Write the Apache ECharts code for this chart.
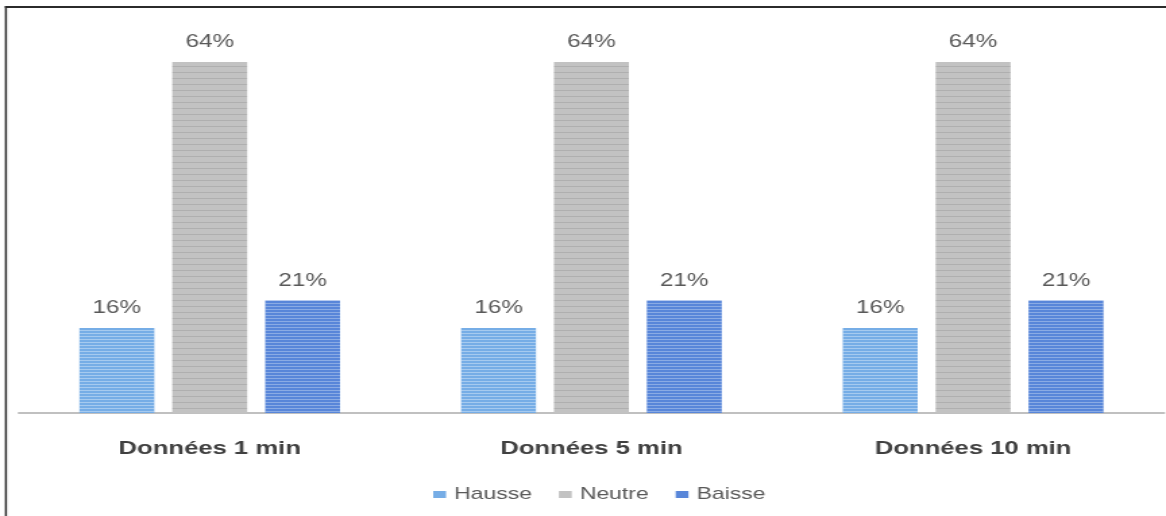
<!DOCTYPE html>
<html>
<head>
<meta charset="utf-8">
<script src="https://cdn.jsdelivr.net/npm/echarts@6/dist/echarts.min.js"></script>
<style>
html,body{margin:0;padding:0;background:#fff;overflow:hidden;}
#wrap{width:1166px;height:516px;overflow:hidden;position:relative;}
#chart{width:864px;height:516px;transform:scaleX(1.3495);transform-origin:0 0;position:absolute;left:0;top:0;}
</style>
</head>
<body>
<div id="wrap"><div id="chart"></div></div>
<script>
var categories = ['Données 1 min', 'Données 5 min', 'Données 10 min'];
var hausse = [15.5, 15.5, 15.5];
var neutre = [64, 64, 64];
var baisse = [20.5, 20.5, 20.5];
var seriesNames = ['Hausse', 'Neutre', 'Baisse'];

var chart = echarts.init(document.getElementById('chart'), null, {renderer: 'canvas'});
var fontFam = '"Liberation Sans", Arial, sans-serif';
function mkLabel() {
  return {
    show: true, position: 'top', distance: 11,
    color: '#595959', fontSize: 18, fontFamily: fontFam,
    formatter: function (p) { return Math.round(p.value) + '%'; }
  };
}
function mkSeries(name, data, color, decalColor, period) {
  return {
    name: name, type: 'bar', data: data,
    barGap: '24%', barCategoryGap: '31.7%',
    itemStyle: {
      color: color,
      decal: {
        symbol: 'rect',
        color: decalColor,
        dashArrayX: [[1, 0]],
        dashArrayY: [1, period - 1],
        rotation: 0,
        symbolSize: 1
      }
    },
    label: mkLabel(),
    emphasis: {disabled: true}
  };
}
chart.setOption({
  animation: false,
  backgroundColor: '#ffffff',
  aria: {enabled: true, decal: {show: true}},
  grid: {left: 14, right: 1.5, top: 29, bottom: 103},
  legend: {
    bottom: 8, left: 316,
    itemWidth: 9.5, itemHeight: 7, itemGap: 20,
    icon: 'rect',
    itemStyle: {decal: 'none'},
    textStyle: {color: '#595959', fontSize: 17, fontFamily: fontFam, padding: [0, 0, 0, 1]},
    data: seriesNames
  },
  xAxis: {
    type: 'category', data: categories,
    axisLine: {lineStyle: {color: '#c0c0c0', width: 2}},
    axisTick: {show: false},
    axisLabel: {color: '#404040', fontSize: 19, fontWeight: 'bold', fontFamily: fontFam, margin: 26}
  },
  yAxis: {
    type: 'value', min: 0, max: 70, show: false,
    splitLine: {show: false}
  },
  graphic: [
    {type: 'line', shape: {x1: 3.7, y1: 7, x2: 864, y2: 7}, style: {stroke: '#2b2b2b', lineWidth: 2}},
    {type: 'line', shape: {x1: 4.4, y1: 6, x2: 4.4, y2: 516}, style: {stroke: '#2b2b2b', lineWidth: 1.5}}
  ],
  series: [
    mkSeries('Hausse', hausse, '#76ade6', 'rgba(255,255,255,0.35)', 3),
    mkSeries('Neutre', neutre, '#c2c2c2', 'rgba(140,140,140,0.35)', 6),
    mkSeries('Baisse', baisse, '#5886d9', 'rgba(255,255,255,0.3)', 3)
  ]
});
</script>
</body>
</html>
